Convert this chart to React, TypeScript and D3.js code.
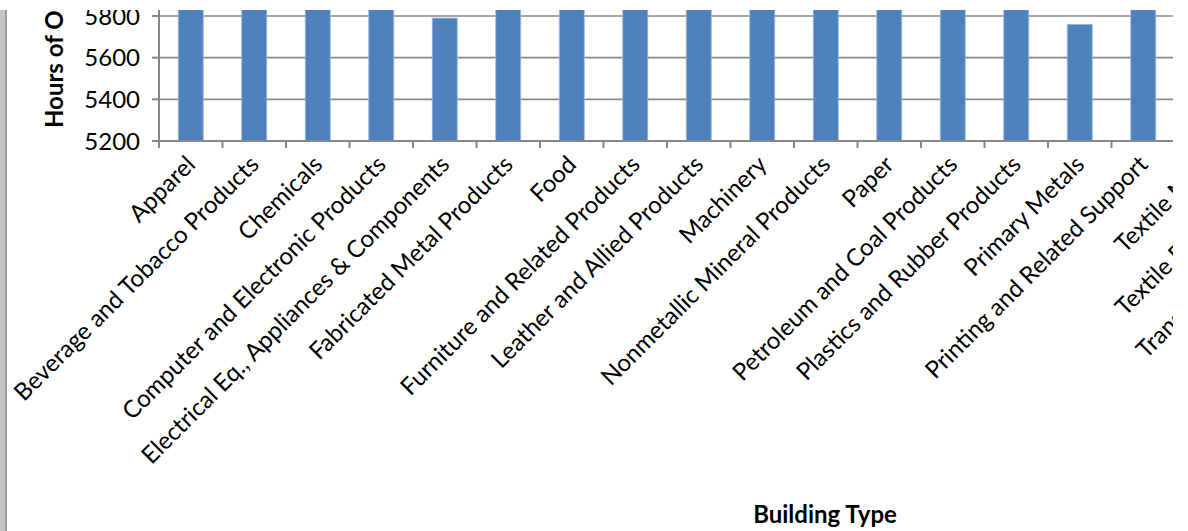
import React, { useEffect, useRef } from 'react';
import * as d3 from 'd3';

// Hours of operation by manufacturing building type (view is cropped: tall bars run off the top)
const categories = [
  'Apparel',
  'Beverage and Tobacco Products',
  'Chemicals',
  'Computer and Electronic Products',
  'Electrical Eq., Appliances & Components',
  'Fabricated Metal Products',
  'Food',
  'Furniture and Related Products',
  'Leather and Allied Products',
  'Machinery',
  'Nonmetallic Mineral Products',
  'Paper',
  'Petroleum and Coal Products',
  'Plastics and Rubber Products',
  'Primary Metals',
  'Printing and Related Support',
  'Textile Mills',
  'Textile Product Mills',
  'Transportation Equipment',
  'Wood Products',
];
// values above ~5830 are cut off in the reference, those are rough guesses
const hours = [
  6100, 6400, 7200, 6500, 5790, 6000, 6900, 5900, 5950, 6050,
  6700, 7600, 7800, 6600, 5760, 6200, 7000, 6300, 6350, 6450,
];
const yTicks = [5200, 5400, 5600, 5800];

const W = 1188;
const H = 531;
const FONT = 'Lato, "Open Sans", sans-serif';
const FS = '24px';

const App = () => {
  const svgRef = useRef<SVGSVGElement>(null);

  useEffect(() => {
    const svg = d3.select(svgRef.current);
    svg.selectAll('*').remove();

    const left = 159;
    const step = 63.5;
    const axisY = 141;

    const x = d3.scaleBand<string>()
      .domain(categories)
      .range([left, left + step * categories.length])
      .paddingInner(0.606)
      .paddingOuter(0.303);

    const y = d3.scaleLinear()
      .domain([5200, 5800])
      .range([axisY, 16]);

    svg.append('defs').append('clipPath')
      .attr('id', 'view-clip')
      .append('rect')
      .attr('x', 0).attr('y', 10)
      .attr('width', 1173).attr('height', H - 10);

    const g = svg.append('g').attr('clip-path', 'url(#view-clip)');

    // grey strip on the left edge
    g.append('rect').attr('x', 0).attr('y', 10).attr('width', 5).attr('height', H).attr('fill', '#c4c4c4');
    g.append('rect').attr('x', 5).attr('y', 10).attr('width', 2).attr('height', H).attr('fill', '#9a9a9a');

    const plotRight = left + step * categories.length;

    // gridlines
    g.append('g')
      .selectAll('line')
      .data(yTicks.slice(1))
      .enter()
      .append('line')
      .attr('x1', left).attr('x2', plotRight)
      .attr('y1', d => y(d)).attr('y2', d => y(d))
      .attr('stroke', '#8a8a8a')
      .attr('stroke-width', 1.6);

    // bars
    g.append('g')
      .selectAll('rect')
      .data(categories)
      .enter()
      .append('rect')
      .attr('x', d => x(d)!)
      .attr('width', x.bandwidth())
      .attr('y', (d, i) => y(hours[i]))
      .attr('height', (d, i) => axisY - y(hours[i]))
      .attr('fill', '#4f81bd')
      .attr('stroke', '#9fbbdc')
      .attr('stroke-width', 0.8);

    // axes
    g.append('line')
      .attr('x1', left).attr('x2', plotRight)
      .attr('y1', axisY).attr('y2', axisY)
      .attr('stroke', '#868686').attr('stroke-width', 2.2);
    g.append('line')
      .attr('x1', left).attr('x2', left)
      .attr('y1', 0).attr('y2', axisY + 6)
      .attr('stroke', '#868686').attr('stroke-width', 2);

    const bounds = d3.range(categories.length + 1).map(i => left + step * i);
    g.append('g')
      .selectAll('line')
      .data(bounds)
      .enter()
      .append('line')
      .attr('x1', d => d).attr('x2', d => d)
      .attr('y1', axisY).attr('y2', axisY + 7)
      .attr('stroke', '#868686').attr('stroke-width', 2);

    g.append('g')
      .selectAll('line')
      .data(yTicks)
      .enter()
      .append('line')
      .attr('x1', left - 7).attr('x2', left)
      .attr('y1', d => y(d)).attr('y2', d => y(d))
      .attr('stroke', '#868686').attr('stroke-width', 2);

    // y tick labels
    g.append('g')
      .selectAll('text')
      .data(yTicks)
      .enter()
      .append('text')
      .attr('x', 140)
      .attr('y', d => y(d))
      .attr('dy', '0.36em')
      .attr('text-anchor', 'end')
      .style('font-family', FONT)
      .style('font-size', FS)
      .attr('fill', '#000')
      .text(d => d);

    // x tick labels, rotated
    g.append('g')
      .selectAll('text')
      .data(categories)
      .enter()
      .append('text')
      .attr('transform', d => `translate(${x(d)! + x.bandwidth() / 2 + 6},${axisY + 25}) rotate(-45)`)
      .attr('text-anchor', 'end')
      .style('font-family', FONT)
      .style('font-size', FS)
      .attr('fill', '#000')
      .text(d => d);

    // axis titles
    g.append('text')
      .attr('transform', `translate(63,128) rotate(-90)`)
      .attr('text-anchor', 'start')
      .style('font-family', FONT)
      .style('font-size', FS)
      .style('font-weight', 'bold')
      .attr('fill', '#000')
      .text('Hours of Operation');

    g.append('text')
      .attr('x', 825)
      .attr('y', 523)
      .attr('text-anchor', 'middle')
      .style('font-family', FONT)
      .style('font-size', FS)
      .style('font-weight', 'bold')
      .attr('fill', '#000')
      .text('Building Type');
  }, []);

  return (
    <svg
      ref={svgRef}
      width={W}
      height={H}
      style={{ position: 'absolute', left: 0, top: 0, background: '#fff' }}
    />
  );
};

export default App;
